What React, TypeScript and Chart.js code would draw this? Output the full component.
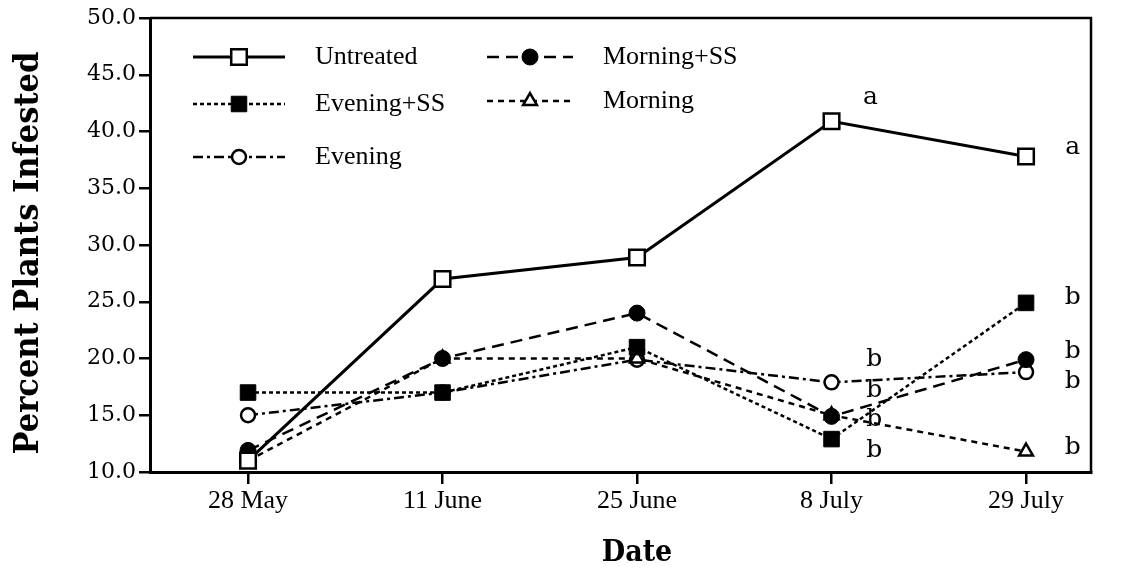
import React, { useEffect, useRef } from "react";
import { Chart, registerables } from "chart.js";
import { drawPoint } from "chart.js/helpers";

Chart.register(...registerables);

const categories = ["28 May", "11 June", "25 June", "8 July", "29 July"];
const yTicks = [10, 15, 20, 25, 30, 35, 40, 45, 50];
const xTitle = "Date";
const yTitle = "Percent Plants Infested";

const untreated = [11, 27, 28.9, 40.9, 37.8];
const morningSS = [11.9, 20, 24, 14.9, 19.9];
const eveningSS = [17, 17, 21, 12.9, 24.9];
const morning = [11, 20, 20, 15, 11.8];
const evening = [15, 17, 19.9, 17.9, 18.8];

// significance letters: [category position, value, letter]
const letterX = [3.2, 4.24, 3.22, 3.22, 3.22, 3.22, 4.24, 4.24, 4.24, 4.24];
const letterY = [43.0, 38.6, 19.9, 17.2, 14.6, 11.9, 25.4, 20.6, 18.0, 12.2];
const letterText = ["a", "a", "b", "b", "b", "b", "b", "b", "b", "b"];

const SERIF = "'Liberation Serif', 'Times New Roman', serif";
const SLAB = "'DejaVu Serif Condensed', 'DejaVu Serif', serif";
const WIDE = "'DejaVu Serif', serif";

function toXY(vals: number[]) {
  return vals.map((v, i) => ({ x: i, y: v }));
}

const legendLayout = [
  { ds: 0, x0: 193, x1: 285, y: 57, tx: 315 },
  { ds: 2, x0: 193, x1: 285, y: 104, tx: 315 },
  { ds: 4, x0: 193, x1: 285, y: 157, tx: 315 },
  { ds: 1, x0: 487, x1: 573, y: 57, tx: 603 },
  { ds: 3, x0: 487, x1: 573, y: 101, tx: 603 },
];

const extrasPlugin = {
  id: "extras",
  afterDatasetsDraw(chart: any) {
    const ctx = chart.ctx;
    const ca = chart.chartArea;
    ctx.save();
    // frame top & right
    ctx.strokeStyle = "#000";
    ctx.lineWidth = 2.5;
    ctx.setLineDash([]);
    ctx.beginPath();
    ctx.moveTo(ca.left, ca.top);
    ctx.lineTo(ca.right, ca.top);
    ctx.lineTo(ca.right, ca.bottom);
    ctx.stroke();

    // axis titles
    ctx.fillStyle = "#000";
    ctx.textAlign = "center";
    ctx.textBaseline = "middle";
    ctx.font = `bold 30px ${SLAB}`;
    ctx.fillText(xTitle, 637, 553);
    ctx.save();
    ctx.translate(29, 253);
    ctx.rotate(-Math.PI / 2);
    ctx.font = `bold 34px ${SLAB}`;
    ctx.fillText(yTitle, 0, 0);
    ctx.restore();

    // letters
    const xs = chart.scales.x;
    const ys = chart.scales.y;
    ctx.fillStyle = "#000";
    ctx.font = `25px ${WIDE}`;
    ctx.textAlign = "center";
    ctx.textBaseline = "middle";
    letterText.forEach((t, i) => {
      ctx.fillText(t, xs.getPixelForValue(letterX[i]), ys.getPixelForValue(letterY[i]));
    });

    // legend
    legendLayout.forEach((item) => {
      const ds = chart.data.datasets[item.ds];
      ctx.strokeStyle = "#000";
      ctx.lineWidth = ds.borderWidth;
      ctx.setLineDash(ds.borderDash || []);
      ctx.beginPath();
      ctx.moveTo(item.x0, item.y);
      ctx.lineTo(item.x1, item.y);
      ctx.stroke();
      ctx.setLineDash([]);
      ctx.fillStyle = ds.pointBackgroundColor;
      ctx.strokeStyle = "#000";
      ctx.lineWidth = ds.pointBorderWidth;
      drawPoint(
        ctx,
        { pointStyle: ds.pointStyle, radius: ds.pointRadius, rotation: 0, borderWidth: ds.pointBorderWidth },
        (item.x0 + item.x1) / 2,
        item.y
      );
      ctx.fillStyle = "#000";
      ctx.font = `26px ${SERIF}`;
      ctx.textAlign = "left";
      ctx.textBaseline = "middle";
      ctx.fillText(ds.label, item.tx, item.y);
    });
    ctx.restore();
  },
};

export default function App() {
  const ref = useRef<HTMLCanvasElement | null>(null);

  useEffect(() => {
    if (!ref.current) return;
    const common = { borderColor: "#000", pointBorderColor: "#000", fill: false, tension: 0 };
    const chart = new Chart(ref.current, {
      type: "line",
      data: {
        datasets: [
          {
            ...common,
            label: "Untreated",
            data: toXY(untreated),
            borderWidth: 3,
            borderDash: [],
            pointStyle: "rect",
            pointRadius: 11,
            pointBorderWidth: 2.5,
            pointBackgroundColor: "#fff",
          },
          {
            ...common,
            label: "Morning+SS",
            data: toXY(morningSS),
            borderWidth: 2.5,
            borderDash: [12, 7],
            pointStyle: "circle",
            pointRadius: 8,
            pointBorderWidth: 1,
            pointBackgroundColor: "#000",
          },
          {
            ...common,
            label: "Evening+SS",
            data: toXY(eveningSS),
            borderWidth: 2.5,
            borderDash: [4, 3],
            pointStyle: "rect",
            pointRadius: 11,
            pointBorderWidth: 1,
            pointBackgroundColor: "#000",
          },
          {
            ...common,
            label: "Morning",
            data: toXY(morning),
            borderWidth: 2.5,
            borderDash: [6, 5],
            pointStyle: "triangle",
            pointRadius: 8,
            pointBorderWidth: 2.5,
            pointBackgroundColor: "#fff",
          },
          {
            ...common,
            label: "Evening",
            data: toXY(evening),
            borderWidth: 2.5,
            borderDash: [10, 4, 3, 4],
            pointStyle: "circle",
            pointRadius: 7,
            pointBorderWidth: 2.5,
            pointBackgroundColor: "#fff",
          },
        ],
      },
      options: {
        responsive: false,
        animation: false,
        layout: { padding: { top: 18, right: 43, left: 0, bottom: 0 } },
        plugins: { legend: { display: false }, tooltip: { enabled: false } },
        scales: {
          x: {
            type: "linear",
            min: -0.504,
            max: 4.334,
            afterBuildTicks: (s: any) => {
              s.ticks = categories.map((_, i) => ({ value: i }));
            },
            afterFit: (s: any) => {
              s.height = 99;
            },
            ticks: {
              color: "#000",
              font: { family: SERIF, size: 26 },
              padding: 2,
              maxRotation: 0,
              callback: (v: any) => categories[Math.round(Number(v))] ?? "",
            },
            grid: { display: true, drawOnChartArea: false, drawTicks: true, tickLength: 12, color: "#000", lineWidth: 2.5 },
            border: { display: true, color: "#000", width: 3 },
            title: { display: false },
          },
          y: {
            type: "linear",
            min: 10,
            max: 50,
            afterBuildTicks: (s: any) => {
              s.ticks = yTicks.map((v) => ({ value: v }));
            },
            afterFit: (s: any) => {
              s.width = 150;
            },
            ticks: {
              color: "#000",
              font: { family: WIDE, size: 22 },
              padding: 3,
              callback: (v: any) => Number(v).toFixed(1),
            },
            grid: { display: true, drawOnChartArea: false, drawTicks: true, tickLength: 11, color: "#000", lineWidth: 2.5 },
            border: { display: true, color: "#000", width: 3 },
            title: { display: false },
          },
        },
      },
      plugins: [extrasPlugin],
    } as any);
    return () => chart.destroy();
  }, []);

  return (
    <div style={{ position: "absolute", left: 0, top: 0, width: 1134, height: 571, background: "#fff" }}>
      <canvas ref={ref} width={1134} height={571} style={{ display: "block" }} />
    </div>
  );
}
